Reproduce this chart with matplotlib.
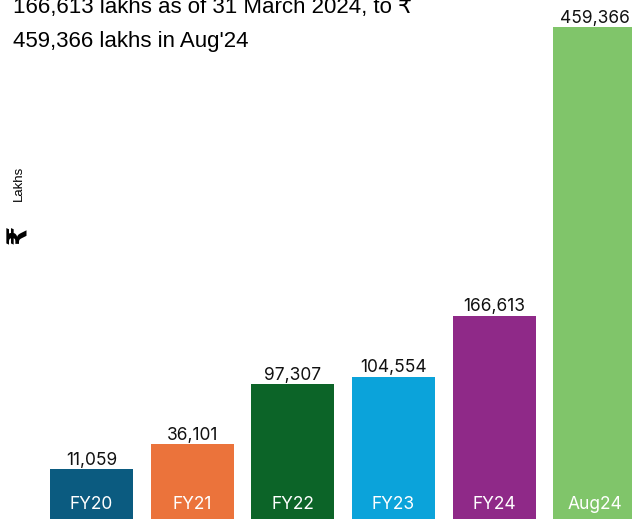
import matplotlib
matplotlib.use('Agg')
from matplotlib import pyplot as plt
import matplotlib.transforms as mtransforms
import numpy as np

# data
periods = ['FY20', 'FY21', 'FY22', 'FY23', 'FY24', 'Aug24']
lakhs = [11059, 36101, 97307, 104554, 166613, 459366]
bar_colors = ['#0b5b80', '#eb733b', '#0c6428', '#0ba3da', '#8f2988', '#80c56a']

title_line1 = '166,613 lakhs as of 31 March 2024, to \u20b9'
title_line2 = "459,366 lakhs in Aug'24"

fig = plt.figure(figsize=(6.32, 5.19), dpi=100)
ax = fig.add_axes([0, 0, 1, 1])
ax.axis('off')

# the baseline sits below the visible area (cropped infographic)
floor = -40000
x = np.arange(len(periods))
heights = np.array(lakhs) - floor
ax.bar(x, heights, bottom=floor, width=0.825, color=bar_colors)

ax.set_xlim(-0.91, 5.37)
ax.set_ylim(floor, 487000)

# value labels above bars
for xi, v in zip(x, lakhs):
    ax.annotate(f'{v:,}', xy=(xi, v), xytext=(0, 3), textcoords='offset points',
                ha='center', va='baseline', fontsize=12.5, family='Inter',
                color='#111111')

# period names inside bars
trans = mtransforms.blended_transform_factory(ax.transData, ax.transAxes)
for xi, name in zip(x, periods):
    ax.text(xi, 0.019, name, transform=trans, ha='center', va='baseline',
            fontsize=12.5, family='Inter', color='white')

# title (top part cut off in the original)
fig.text(0.021, 1 - 12.7 / 519, title_line1, ha='left', va='baseline',
         fontsize=16, family=['Liberation Sans', 'DejaVu Sans'], color='#000000')
fig.text(0.021, 1 - 47 / 519, title_line2, ha='left', va='baseline',
         fontsize=16, family=['Liberation Sans', 'DejaVu Sans'], color='#000000')

# y axis label
fig.text(19 / 632, 1 - 183 / 519, 'Lakhs', rotation=90, ha='center', va='center',
         fontsize=9.5, family=['Liberation Sans Narrow', 'Liberation Sans'], color='#000000')
fig.text(20 / 632, 1 - 234 / 519, '\u20b9', rotation=90, ha='center', va='center',
         fontsize=20, fontweight='bold', family=['Liberation Sans', 'DejaVu Sans'],
         color='#000000')

plt.savefig('out.png', dpi=100)
